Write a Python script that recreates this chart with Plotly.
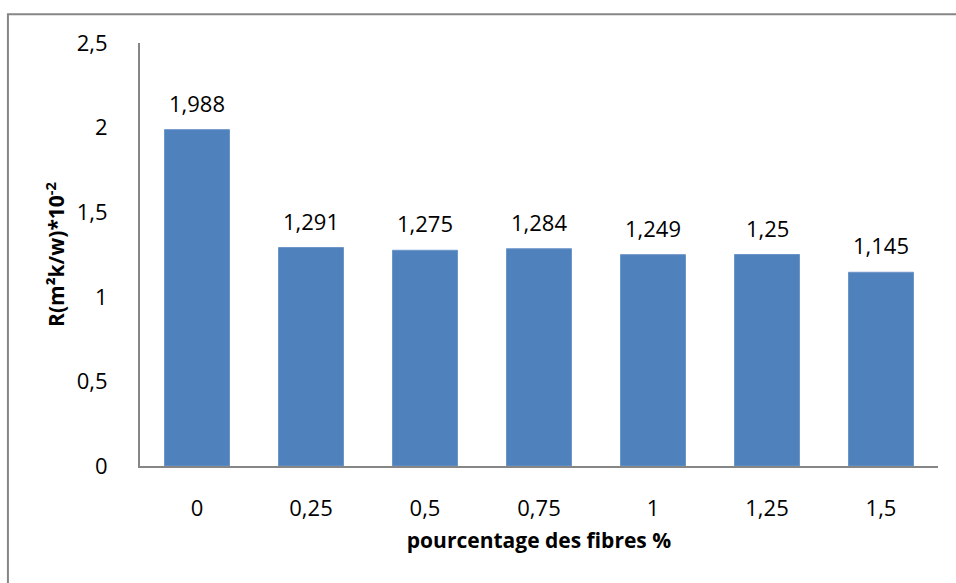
import plotly.graph_objects as go

# Fibre content (%) and thermal resistance values
categories = ["0", "0,25", "0,5", "0,75", "1", "1,25", "1,5"]
values = [1.988, 1.291, 1.275, 1.284, 1.249, 1.25, 1.145]
y_ticks = [0, 0.5, 1, 1.5, 2, 2.5]
y_tick_labels = ["0", "0,5", "1", "1,5", "2", "2,5"]

value_labels = [str(v).replace(".", ",") for v in values]

FONT = "Open Sans"
GRAY = "#868686"

fig = go.Figure(
    go.Bar(
        x=categories,
        y=values,
        marker=dict(color="#4F81BD", line=dict(color="#6C95C8", width=1)),
        hoverinfo="x+y",
    )
)

# value labels above each bar (category axis positions are the indices)
for i, (v, t) in enumerate(zip(values, value_labels)):
    fig.add_annotation(
        x=i, y=v, xref="x", yref="y", text=t, showarrow=False,
        yanchor="middle", yshift=27,
        font=dict(family=FONT, size=22, color="#000000"),
    )

# outer chart-area frame (only left and top edges fall inside the page)
fig.add_shape(
    type="rect", xref="paper", yref="paper",
    x0=-0.1655, x1=1.04, y0=-0.32, y1=1.068,
    line=dict(color=GRAY, width=2), fillcolor="rgba(0,0,0,0)", layer="below",
)

fig.update_layout(
    width=956,
    height=583,
    margin=dict(l=140, r=18, t=43, b=117),
    paper_bgcolor="white",
    plot_bgcolor="white",
    bargap=0.43,
    showlegend=False,
    separators=", ",
    font=dict(family=FONT, size=22, color="#000000"),
    xaxis=dict(
        type="category",
        showgrid=False,
        showline=True,
        linecolor=GRAY,
        linewidth=2,
        ticks="",
        ticklabelstandoff=22,
        tickfont=dict(family=FONT, size=22),
        title=dict(
            text="<b>pourcentage des fibres %</b>",
            font=dict(family=FONT, size=21),
            standoff=12,
        ),
    ),
    yaxis=dict(
        range=[0, 2.5],
        tickvals=y_ticks,
        ticktext=y_tick_labels,
        showgrid=False,
        zeroline=False,
        showline=True,
        linecolor=GRAY,
        linewidth=2,
        ticks="",
        ticklabelstandoff=26,
        tickfont=dict(family=FONT, size=22),
        title=dict(
            text="<b>R(m²k/w)*10<sup>-2</sup></b>",
            font=dict(family=FONT, size=21),
            standoff=6,
        ),
    ),
)

fig.write_html("out.html")
